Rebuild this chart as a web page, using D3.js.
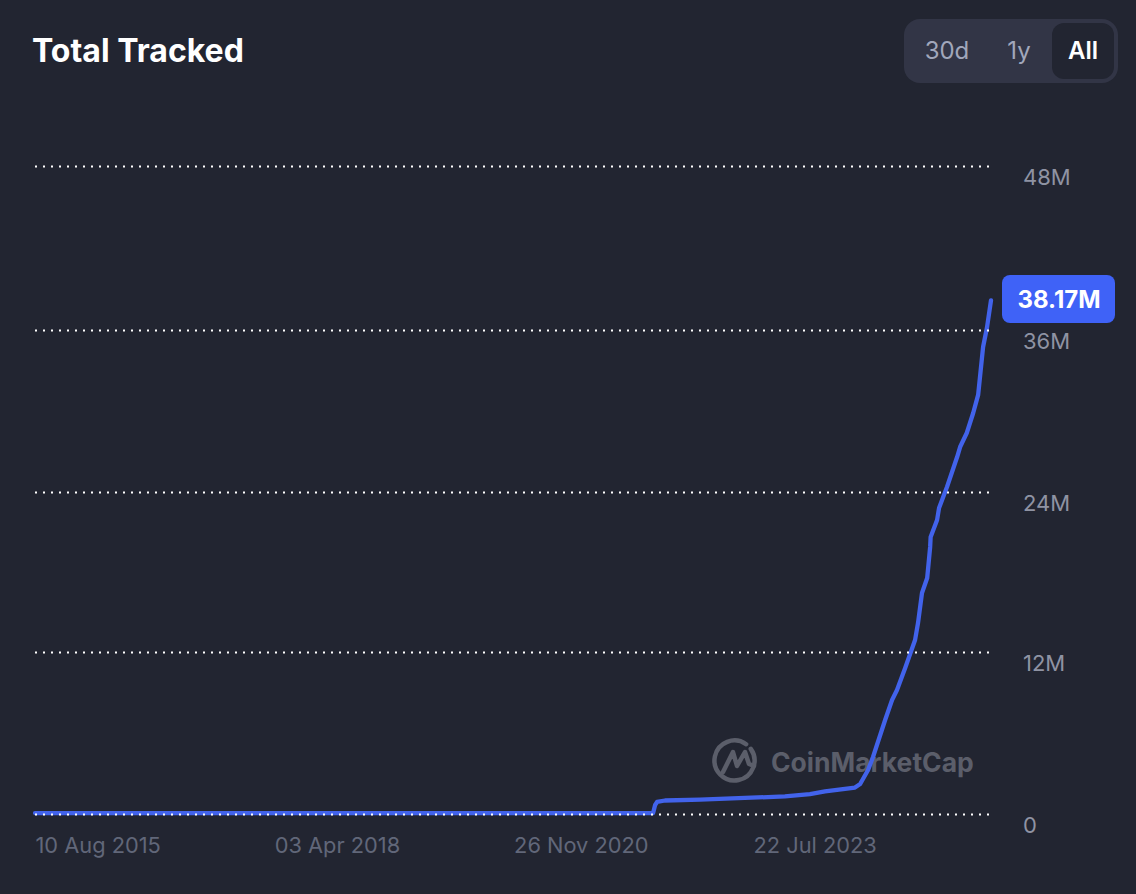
<!DOCTYPE html>
<html>
<head>
<meta charset="utf-8">
<script src="https://cdn.jsdelivr.net/npm/d3@7"></script>
<style>
  html, body { margin: 0; padding: 0; background: #222531; }
  svg { display: block; font-family: Inter, "Open Sans", sans-serif; }
</style>
</head>
<body>
<script>
const dates = ["2015-08-10", "2022-06-13", "2022-06-21", "2022-06-29", "2022-07-31", "2022-12-20", "2023-11-28",
  "2024-03-08", "2024-05-08", "2024-09-06", "2024-09-27", "2024-10-29", "2024-11-18", "2025-01-06", "2025-02-03",
  "2025-02-23", "2025-03-28", "2025-05-07", "2025-05-19", "2025-06-04", "2025-06-25", "2025-07-07", "2025-07-09",
  "2025-08-04", "2025-08-12", "2025-09-13", "2025-10-24", "2025-11-05", "2025-12-02", "2025-12-28", "2026-01-17",
  "2026-02-06", "2026-02-22", "2026-03-10"];
const totals = [0.07, 0.07, 0.67, 0.89, 1.0, 1.07, 1.3,
  1.48, 1.67, 1.96, 2.22, 3.26, 4.22, 6.96, 8.44,
  9.19, 10.81, 12.9, 14.18, 16.43, 17.55, 19.88, 20.63,
  21.9, 22.8, 24.37, 26.59, 27.33, 28.37, 29.85, 31.19,
  34.74, 36.2, 38.17];
const yTicks = [0, 12, 24, 36, 48];
const xTicks = ["2015-08-10", "2018-04-03", "2020-11-26", "2023-07-22"];
const ranges = ["30d", "1y", "All"];
const lastLabel = "38.17M";

const width = 1136, height = 894;
const parse = d3.utcParse("%Y-%m-%d");
const points = dates.map((d, i) => ({ date: parse(d), value: totals[i] }));

const svg = d3.select("body").append("svg")
    .attr("width", width)
    .attr("height", height);

svg.append("rect").attr("width", width).attr("height", height).attr("fill", "#222531");

const x = d3.scaleUtc()
    .domain([parse("2015-08-10"), parse("2026-03-10")])
    .range([35, 991]);
// the grid rows in the picture are not quite evenly spaced
const y = d3.scaleLinear().domain(yTicks).range([814, 652, 492, 330, 166]);

// title
svg.append("text")
    .attr("x", 32).attr("y", 62)
    .attr("fill", "#fff")
    .attr("font-size", 32).attr("font-weight", 700)
    .text("Total Tracked");

// range switch
svg.append("rect")
    .attr("x", 904).attr("y", 19).attr("width", 214).attr("height", 64).attr("rx", 16)
    .attr("fill", "#323546");
svg.append("rect")
    .attr("x", 1052).attr("y", 23).attr("width", 62).attr("height", 56).attr("rx", 12)
    .attr("fill", "#222531");
const rangeX = [947, 1019, 1083];
svg.selectAll("text.range").data(ranges).enter().append("text")
    .attr("class", "range")
    .attr("x", (d, i) => rangeX[i]).attr("y", 59)
    .attr("text-anchor", "middle")
    .attr("font-size", 24)
    .attr("font-weight", d => d === "All" ? 600 : 400)
    .attr("fill", d => d === "All" ? "#fff" : "#a1a7bb")
    .text(d => d);

// watermark
const mark = svg.append("g").attr("fill", "none").attr("stroke", "#5b5e6a").attr("stroke-width", 4.5)
    .attr("stroke-linecap", "round").attr("stroke-linejoin", "round");
mark.append("path").attr("d", d3.arc()({
  innerRadius: 20, outerRadius: 20, startAngle: 0.95, endAngle: 2.0 * Math.PI + 0.62
})).attr("transform", "translate(734.5,760.5)");
mark.append("path").attr("d", "M723,772 L733,752 L737,766 L745,752 L749,764 L754,766");
svg.append("text")
    .attr("x", 771).attr("y", 772)
    .attr("fill", "#5b5e6a")
    .attr("font-size", 26.5).attr("font-weight", 700)
    .text("CoinMarketCap");

// series line
const line = d3.line()
    .x(d => x(d.date))
    .y(d => y(d.value));

svg.append("path")
    .datum(points)
    .attr("fill", "none")
    .attr("stroke", "#4263eb")
    .attr("stroke-width", 4.3)
    .attr("stroke-linecap", "round")
    .attr("stroke-linejoin", "round")
    .attr("d", line);

// dotted grid goes over the line
const grid = svg.append("g")
    .attr("transform", "translate(35,0)")
    .call(d3.axisLeft(y).tickValues(yTicks).tickSize(-955).tickFormat(""));
grid.select(".domain").remove();
grid.selectAll("line")
    .attr("stroke", "#fff")
    .attr("stroke-width", 2)
    .attr("stroke-dasharray", "2 6");

// y axis labels
const yAxis = svg.append("g")
    .attr("transform", "translate(1023,0)")
    .call(d3.axisRight(y).tickValues(yTicks).tickSize(0).tickPadding(0).tickFormat(d => d === 0 ? "0" : d + "M"));
yAxis.select(".domain").remove();
yAxis.selectAll("text")
    .attr("dy", 18.5)
    .attr("fill", "#8f93a3")
    .attr("font-family", "Inter, sans-serif")
    .attr("font-size", 22);

// x axis labels
const xFormat = d3.utcFormat("%d %b %Y");
const xAxis = svg.append("g")
    .attr("transform", "translate(0,853)")
    .call(d3.axisBottom(x).tickValues(xTicks.map(parse)).tickSize(0).tickPadding(0).tickFormat(xFormat));
xAxis.select(".domain").remove();
xAxis.selectAll("text")
    .attr("y", 0).attr("dy", 0)
    .attr("text-anchor", "start")
    .attr("fill", "#616779")
    .attr("font-family", "Inter, sans-serif")
    .attr("font-size", 21.8);

// last value badge
svg.append("rect")
    .attr("x", 1002).attr("y", 275).attr("width", 113).attr("height", 48).attr("rx", 8)
    .attr("fill", "#3f62f7");
svg.append("text")
    .attr("x", 1059).attr("y", 307.5)
    .attr("text-anchor", "middle")
    .attr("fill", "#fff")
    .attr("font-size", 24).attr("font-weight", 700)
    .text(lastLabel);
</script>
</body>
</html>
